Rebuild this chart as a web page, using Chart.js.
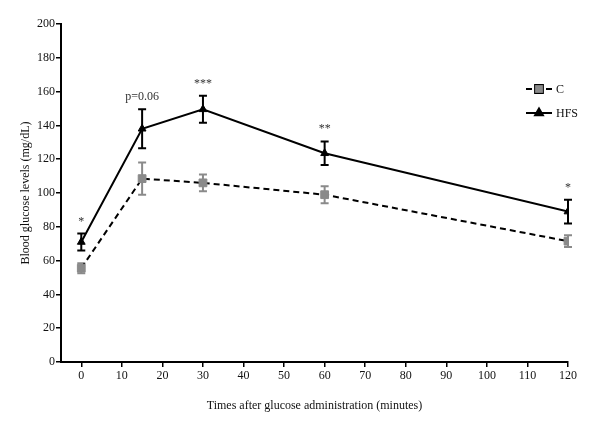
<!DOCTYPE html>
<html>
<head>
<meta charset="utf-8">
<script src="https://cdn.jsdelivr.net/npm/chart.js@4.4.1/dist/chart.umd.min.js"></script>
<style>
  html, body { margin: 0; padding: 0; background: #fff; }
</style>
</head>
<body>
<canvas id="chartOne" width="600" height="422"></canvas>
<script>
// values (mean and SEM)
const times = [0, 15, 30, 60, 120];
const controlMean = [55.5, 108.5, 106, 99, 71.5];
const controlSem = [3, 9.5, 5, 5, 3.5];
const hfsMean = [71, 138, 149.5, 123.5, 89];
const hfsSem = [5, 11.5, 8, 7, 7];
const signif = ["*", "p=0.06", "***", "**", "*"];
const xTicks = [0, 10, 20, 30, 40, 50, 60, 70, 80, 90, 100, 110, 120];
const yTicks = [0, 20, 40, 60, 80, 100, 120, 140, 160, 180, 200];

const serif = "'Liberation Serif', 'Times New Roman', serif";
const gray = "#8a8a8a";

const toPoints = (ys) => times.map((t, i) => ({ x: t, y: ys[i] }));

const errorBars = {
  id: "errorBars",
  beforeDatasetsDraw(chart) {
    const { ctx, scales: { x, y } } = chart;
    chart.data.datasets.forEach((ds) => {
      ctx.save();
      ctx.strokeStyle = ds.errColor;
      ctx.lineWidth = 2;
      ds.data.forEach((p, i) => {
        const px = x.getPixelForValue(p.x);
        const top = y.getPixelForValue(p.y + ds.sem[i]);
        const bot = y.getPixelForValue(p.y - ds.sem[i]);
        ctx.beginPath();
        ctx.moveTo(px, top); ctx.lineTo(px, bot);
        ctx.moveTo(px - 4, top); ctx.lineTo(px + 4, top);
        ctx.moveTo(px - 4, bot); ctx.lineTo(px + 4, bot);
        ctx.stroke();
      });
      ctx.restore();
    });
  },
  afterDatasetsDraw(chart) {
    // significance marks above the HFS error bars
    const { ctx, scales: { x, y } } = chart;
    ctx.save();
    ctx.fillStyle = "#333";
    ctx.font = "12px " + serif;
    ctx.textAlign = "center";
    ctx.textBaseline = "alphabetic";
    times.forEach((t, i) => {
      const px = x.getPixelForValue(t);
      const top = y.getPixelForValue(hfsMean[i] + hfsSem[i]);
      ctx.fillText(signif[i], px, top - 9);
    });
    ctx.restore();
  }
};

const sideLegend = {
  id: "sideLegend",
  afterDraw(chart) {
    const ctx = chart.ctx;
    const x0 = 526, x1 = 552;
    chart.data.datasets.forEach((ds, i) => {
      const yy = 89 + i * 24;
      ctx.save();
      ctx.strokeStyle = ds.borderColor;
      ctx.lineWidth = 2;
      ctx.setLineDash(ds.borderDash || []);
      ctx.beginPath();
      ctx.moveTo(x0, yy); ctx.lineTo(x1, yy);
      ctx.stroke();
      ctx.setLineDash([]);
      Chart.helpers.drawPoint(ctx, {
        pointStyle: ds.pointStyle, radius: ds.pointRadius, borderWidth: 1
      }, (x0 + x1) / 2, yy);
      ctx.fillStyle = ds.pointBackgroundColor;
      ctx.fill();
      ctx.fillStyle = "#111";
      ctx.font = "12px " + serif;
      ctx.textBaseline = "middle";
      ctx.fillText(ds.label, x1 + 4, yy + 1);
      ctx.restore();
    });
  }
};

const tickFont = { family: serif, size: 12 };
const titleFont = { family: serif, size: 12 };

new Chart(document.getElementById("chartOne"), {
  type: "line",
  data: {
    datasets: [
      {
        label: "C",
        data: toPoints(controlMean),
        sem: controlSem,
        errColor: gray,
        borderColor: "#000",
        borderWidth: 2,
        borderDash: [6, 4],
        pointStyle: "rect",
        pointRadius: 5.5,
        pointBackgroundColor: gray,
        pointBorderColor: gray,
        pointBorderWidth: 1
      },
      {
        label: "HFS",
        data: toPoints(hfsMean),
        sem: hfsSem,
        errColor: "#000",
        borderColor: "#000",
        borderWidth: 2,
        pointStyle: "triangle",
        pointRadius: 4.5,
        pointBackgroundColor: "#000",
        pointBorderColor: "#000",
        pointBorderWidth: 1
      }
    ]
  },
  options: {
    responsive: false,
    animation: false,
    layout: { padding: { top: 24, right: 32, left: 0, bottom: 0 } },
    plugins: { legend: { display: false }, tooltip: { enabled: false } },
    scales: {
      x: {
        type: "linear",
        min: -5,
        max: 120,
        afterBuildTicks: (s) => { s.ticks = xTicks.map((v) => ({ value: v })); },
        afterFit: (s) => { s.height = 60; },
        ticks: { color: "#111", font: tickFont, padding: 2, maxRotation: 0, autoSkip: false },
        grid: { drawOnChartArea: false, color: "#000", lineWidth: 1.5, tickLength: 5 },
        border: { color: "#000", width: 2 },
        title: {
          display: true,
          text: "Times after glucose administration (minutes)",
          color: "#111",
          font: titleFont,
          padding: { top: 0, bottom: 9 }
        }
      },
      y: {
        min: 0,
        max: 200,
        afterBuildTicks: (s) => { s.ticks = yTicks.map((v) => ({ value: v })); },
        afterFit: (s) => { s.width = 61; },
        ticks: { color: "#111", font: tickFont, padding: 1 },
        grid: { drawOnChartArea: false, color: "#000", lineWidth: 1.5, tickLength: 5 },
        border: { color: "#000", width: 2 },
        title: {
          display: true,
          text: "Blood glucose levels (mg/dL)",
          color: "#111",
          font: titleFont,
          padding: { top: 19, bottom: 0 }
        }
      }
    }
  },
  plugins: [errorBars, sideLegend]
});
</script>
</body>
</html>
